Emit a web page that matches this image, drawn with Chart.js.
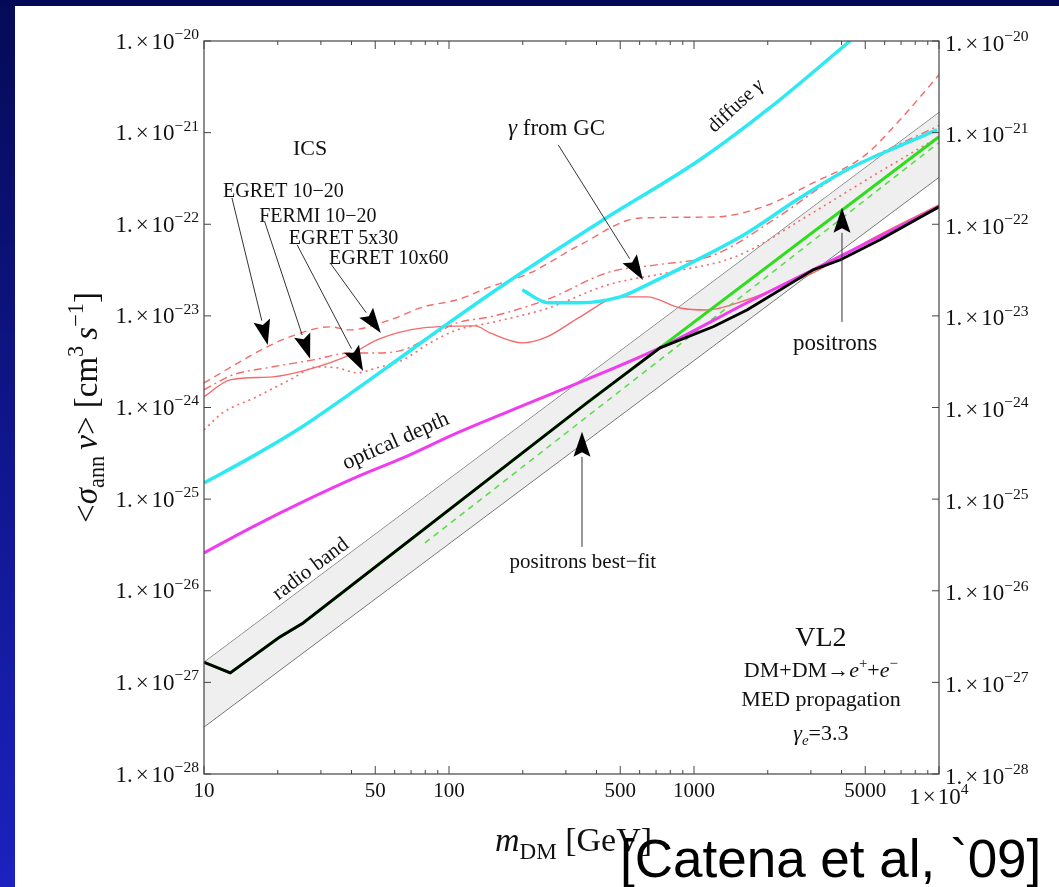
<!DOCTYPE html>
<html>
<head>
<meta charset="utf-8">
<script src="https://cdn.jsdelivr.net/npm/chart.js@4.4.1/dist/chart.umd.min.js"></script>
<style>
  html, body { margin: 0; padding: 0; background: #fff; }
  #slide { position: relative; width: 1059px; height: 887px; background: #fff; overflow: hidden; }
  #edgeLeft { position: absolute; left: 0; top: 0; width: 15px; height: 887px; background: linear-gradient(#050a58, #1b22bf); }
  #edgeTop { position: absolute; left: 0; top: 0; width: 1059px; height: 6px; background: #050a58; }
  canvas { position: absolute; left: 0; top: 0; }
</style>
</head>
<body>
<div id="slide">
  <div id="edgeLeft"></div>
  <div id="edgeTop"></div>
  <canvas id="limits" width="1059" height="887"></canvas>
</div>
<script>
// --- axes ---
const massMajor = [10, 50, 100, 500, 1000, 5000, 10000];
const massMinor = [20, 30, 40, 60, 70, 80, 90, 200, 300, 400, 600, 700, 800, 900,
                   2000, 3000, 4000, 6000, 7000, 8000, 9000];
const massLabels = ['10', '50', '100', '500', '1000', '5000', '1×10^4'];
const sigmaExps = [-28, -27, -26, -25, -24, -23, -22, -21, -20];

// --- radio band (edges) ---
const bandM = [10, 10000];
const bandUpper = [1.66e-27, 1.66e-21];
const bandLower = [3.25e-28, 3.25e-22];

// --- positrons ---
const blackM = [10, 12.8, 20.4, 25.4, 365, 726, 1197, 1645, 3060, 3945, 5745, 10000];
const blackS = [1.66e-27, 1.27e-27, 3.13e-27, 4.45e-27, 1.12e-24, 4.47e-24, 7.6e-24, 1.16e-23, 3.18e-23, 4.07e-23, 6.76e-23, 1.55e-22];
const greenM = [10, 12.8, 20.4, 25.4, 365, 726, 10000];
const greenS = [1.66e-27, 1.27e-27, 3.13e-27, 4.45e-27, 1.12e-24, 4.47e-24, 9.0e-22];
const bestFitM = [79.8, 10000];
const bestFitS = [3.33e-26, 7.8e-22];

// --- optical depth ---
const opticalM = [10, 15.8, 26.3, 42.1, 64.9, 108, 228, 726, 1645, 3060, 5380, 10000];
const opticalS = [2.59e-26, 4.98e-26, 9.8e-26, 1.75e-25, 2.82e-25, 5.29e-25, 1.21e-24, 4.47e-24, 1.39e-23, 3.18e-23, 6.76e-23, 1.55e-22];

// --- gamma rays ---
const diffuseM = [10, 15.4, 24.7, 39.4, 63.1, 101, 162, 413, 1057, 2042, 4335];
const diffuseS = [1.5e-25, 2.82e-25, 5.98e-25, 1.41e-24, 3.47e-24, 8.59e-24, 2.07e-23, 1.06e-22, 5.05e-22, 1.87e-21, 1e-20];
const gcM = [199, 254, 343, 499, 643, 1028, 1645, 2630, 4207, 6745, 9817];
const gcS = [1.92e-23, 1.39e-23, 1.39e-23, 1.61e-23, 2.18e-23, 4.08e-23, 8.05e-23, 1.85e-22, 3.93e-22, 7.0e-22, 1.07e-21];

// --- ICS ---
const egret1020M = [10, 18.1, 22.4, 32.7, 39.4, 57.4, 78.3, 108, 147, 214, 343, 603, 1197, 1914, 3060, 4898, 6934, 10000];
const egret1020S = [1.86e-24, 4.59e-24, 5.9e-24, 7.59e-24, 7.03e-24, 9.03e-24, 1.25e-23, 1.5e-23, 2.07e-23, 2.94e-23, 5.96e-23, 1.17e-22, 1.2e-22, 1.55e-22, 2.83e-22, 5.45e-22, 1.38e-21, 4.28e-21];
const fermiM = [10, 13.1, 18.1, 27.9, 39.4, 50.8, 64.9, 83.6, 108, 147, 250, 450, 700, 1200, 2200, 4000, 10000];
const fermiS = [1.56e-24, 2.27e-24, 2.71e-24, 3.31e-24, 3.94e-24, 3.94e-24, 4.25e-24, 5.9e-24, 8.4e-24, 9.75e-24, 1.5e-23, 3.0e-23, 3.6e-23, 4.6e-23, 1.2e-22, 3.6e-22, 1.2e-21];
const egret530M = [10, 11.9, 16.4, 22.4, 28.9, 34.9, 42.1, 50.8, 64.9, 83.6, 108, 147, 250, 450, 800, 1500, 3000, 5500, 10000];
const egret530S = [5.69e-25, 8.73e-25, 1.31e-24, 2.0e-24, 2.77e-24, 2.71e-24, 2.39e-24, 2.71e-24, 3.31e-24, 5.07e-24, 7.03e-24, 8.4e-24, 1.2e-23, 2.2e-23, 3.0e-23, 4.5e-23, 1.3e-22, 3.5e-22, 9.0e-22];
const egret1060M = [10, 12.8, 19.1, 26.3, 39.4, 50.8, 78.3, 128, 147, 200, 251, 343, 499, 643, 877, 1130, 1645, 2243, 3060, 5224, 10000];
const egret1060S = [1.31e-24, 2.0e-24, 2.16e-24, 2.57e-24, 3.75e-24, 5.47e-24, 7.39e-24, 7.78e-24, 6.52e-24, 5.07e-24, 5.9e-24, 9.75e-24, 1.61e-23, 1.61e-23, 1.22e-23, 1.16e-23, 1.5e-23, 2.07e-23, 2.94e-23, 6.76e-23, 1.63e-22];

const pts = (ms, ss) => ms.map((m, i) => ({ x: m, y: ss[i] }));

const RED = '#f46a6a';
const serif = '"Liberation Serif", "Times New Roman", serif';

function line(data, color, width, extra) {
  return Object.assign({ data, borderColor: color, borderWidth: width, pointRadius: 0,
    fill: false, tension: 0.35, cubicInterpolationMode: 'monotone' }, extra || {});
}
// straight segments between the points
const straight = { tension: 0, cubicInterpolationMode: 'default' };

// Labels placed in data coordinates: [mass, sigma]
const notes = [
  { at: [27.1, 6.8e-22], size: 22, align: 'center', runs: [{ t: 'ICS' }] },
  { at: [11.96, 2.32e-22], size: 20, align: 'left', runs: [{ t: 'EGRET 10\u221220' }] },
  { at: [16.8, 1.24e-22], size: 20, align: 'left', runs: [{ t: 'FERMI 10\u221220' }] },
  { at: [22.2, 7.27e-23], size: 20, align: 'left', runs: [{ t: 'EGRET 5x30' }] },
  { at: [32.4, 4.4e-23], size: 20, align: 'left', runs: [{ t: 'EGRET 10x60' }] },
  { at: [174, 1.13e-21], size: 23, align: 'left', runs: [{ t: '\u03b3', it: true }, { t: ' from GC' }] },
  { at: [1469, 1.99e-21], size: 20, align: 'center', angle: -43, runs: [{ t: 'diffuse ' }, { t: '\u03b3', it: true }] },
  { at: [60.3, 4.43e-25], size: 22, align: 'center', angle: -24, runs: [{ t: 'optical depth' }] },
  { at: [27.1, 1.77e-26], size: 21, align: 'center', angle: -37, runs: [{ t: 'radio band' }] },
  { at: [3767, 5.12e-24], size: 23, align: 'center', runs: [{ t: 'positrons' }] },
  { at: [352, 2.13e-26], size: 21, align: 'center', runs: [{ t: 'positrons best\u2212fit' }] },
  { at: [3296, 3.13e-27], size: 28, align: 'center', runs: [{ t: 'VL2' }] },
  { at: [3296, 1.38e-27], size: 22, align: 'center', runs: [{ t: 'DM+DM\u2192' }, { t: 'e', it: true }, { t: '+', sup: true },
      { t: '+' }, { t: 'e', it: true }, { t: '\u2212', sup: true }] },
  { at: [3296, 6.59e-28], size: 22, align: 'center', runs: [{ t: 'MED propagation' }] },
  { at: [3296, 2.84e-28], size: 22, align: 'center', runs: [{ t: '\u03b3', it: true }, { t: 'e', it: true, sub: true }, { t: '=3.3' }] }
];

// Arrows: from [mass, sigma] to [mass, sigma] (tip)
const arrows = [
  [[13.0, 1.94e-22], [18.2, 4.82e-24]],
  [[17.7, 1.06e-22], [27.1, 3.40e-24]],
  [[24.0, 5.96e-23], [44.6, 2.51e-24]],
  [[32.7, 3.79e-23], [52.7, 6.52e-24]],
  [[279, 7.36e-22], [619, 2.47e-23]],
  [[4018, 8.59e-24], [4018, 1.51e-22]],
  [[349, 3.01e-26], [349, 5.42e-25]]
];

function drawRuns(ctx, runs, x, y, size, align, angle) {
  const parts = runs.map(r => {
    const s = (r.sub || r.sup) ? size * 0.68 : size;
    const font = (r.it ? 'italic ' : '') + s.toFixed(1) + 'px ' + serif;
    ctx.font = font;
    const w = r.gap != null ? r.gap : ctx.measureText(r.t).width;
    const dy = r.sup ? -size * 0.42 : (r.sub ? size * 0.22 : 0);
    return { r, font, w, dy };
  });
  const total = parts.reduce((a, p) => a + p.w, 0);
  ctx.save();
  ctx.translate(x, y);
  if (angle) ctx.rotate(angle * Math.PI / 180);
  let cx = align === 'center' ? -total / 2 : (align === 'right' ? -total : 0);
  ctx.textAlign = 'left';
  ctx.textBaseline = 'alphabetic';
  ctx.fillStyle = '#111';
  parts.forEach(p => {
    if (p.r.t) { ctx.font = p.font; ctx.fillText(p.r.t, cx, p.dy + size * 0.33); }
    cx += p.w;
  });
  ctx.restore();
}

function powRuns(mant, exp) {
  return [{ t: mant }, { gap: 3 }, { t: '\u00d7' }, { gap: 3 }, { t: '10' }, { t: String(exp).replace('-', '\u2212'), sup: true }];
}

const frame = {
  id: 'frame',
  afterDatasetsDraw(chart) {
    const { ctx, chartArea: a, scales: { x, y } } = chart;
    ctx.save();
    ctx.strokeStyle = '#444';
    ctx.lineWidth = 1.2;
    ctx.strokeRect(a.left, a.top, a.right - a.left, a.bottom - a.top);

    // ticks on all four sides, pointing inward
    ctx.lineWidth = 1;
    ctx.beginPath();
    massMajor.concat(massMinor).forEach(m => {
      const px = x.getPixelForValue(m);
      const len = massMajor.includes(m) ? 8 : 4;
      ctx.moveTo(px, a.bottom); ctx.lineTo(px, a.bottom - len);
      ctx.moveTo(px, a.top); ctx.lineTo(px, a.top + len);
    });
    sigmaExps.forEach(e => {
      const py = y.getPixelForValue(Math.pow(10, e));
      ctx.moveTo(a.left, py); ctx.lineTo(a.left + 7, py);
      ctx.moveTo(a.right, py); ctx.lineTo(a.right - 7, py);
    });
    ctx.stroke();

    // tick labels
    sigmaExps.forEach(e => {
      const py = y.getPixelForValue(Math.pow(10, e));
      drawRuns(ctx, powRuns('1.', e), a.left - 5, py, 23, 'right');
      drawRuns(ctx, powRuns('1.', e), a.right + 6, py + 2, 23, 'left');
    });
    massMajor.forEach((m, i) => {
      const px = x.getPixelForValue(m);
      const lab = massLabels[i];
      if (lab.includes('^')) {
        const [b, p] = lab.split('^');
        drawRuns(ctx, [{ t: b.replace('×10', '') }, { gap: 2 }, { t: '\u00d7' }, { gap: 2 }, { t: '10' }, { t: p, sup: true }],
          px, a.bottom + 22, 23, 'center');
      } else {
        drawRuns(ctx, [{ t: lab }], px, a.bottom + 16, 21, 'center');
      }
    });

    // axis titles
    drawRuns(ctx, [{ t: 'm', it: true }, { t: 'DM', sub: true }, { t: ' [GeV]' }],
      (a.left + a.right) / 2 + 2, a.bottom + 66, 34, 'center');
    drawRuns(ctx, [{ t: '<' }, { t: '\u03c3', it: true }, { t: 'ann', sub: true }, { gap: 6 }, { t: 'v', it: true }, { t: '>' },
      { t: ' [cm' }, { t: '3', sup: true }, { gap: 6 }, { t: 's', it: true }, { t: '\u22121', sup: true }, { t: ']' }],
      a.left - 118, (a.top + a.bottom) / 2, 33, 'center', -90);

    // annotations
    notes.forEach(n => {
      drawRuns(ctx, n.runs, x.getPixelForValue(n.at[0]), y.getPixelForValue(n.at[1]), n.size, n.align, n.angle || 0);
    });

    // arrows
    arrows.forEach(([from, to]) => {
      const x0 = x.getPixelForValue(from[0]), y0 = y.getPixelForValue(from[1]);
      const x1 = x.getPixelForValue(to[0]), y1 = y.getPixelForValue(to[1]);
      const ang = Math.atan2(y1 - y0, x1 - x0);
      const L = 25, W = 8.5;
      const bx = x1 - L * Math.cos(ang), by = y1 - L * Math.sin(ang);
      ctx.strokeStyle = '#333';
      ctx.lineWidth = 1;
      ctx.beginPath(); ctx.moveTo(x0, y0); ctx.lineTo(bx, by); ctx.stroke();
      ctx.fillStyle = '#000';
      ctx.beginPath();
      ctx.moveTo(x1, y1);
      ctx.lineTo(bx + W * Math.sin(ang), by - W * Math.cos(ang));
      ctx.lineTo(bx + 0.18 * L * Math.cos(ang), by + 0.18 * L * Math.sin(ang));
      ctx.lineTo(bx - W * Math.sin(ang), by + W * Math.cos(ang));
      ctx.closePath();
      ctx.fill();
    });

    // citation
    ctx.font = '53px "Liberation Sans", Arial, sans-serif';
    ctx.fillStyle = '#000';
    ctx.textAlign = 'left';
    ctx.textBaseline = 'alphabetic';
    ctx.fillText('[Catena et al, `09]', 620, 877);
    ctx.restore();
  }
};

new Chart(document.getElementById('limits'), {
  type: 'line',
  data: {
    datasets: [
      line(pts(bandM, bandUpper), '#777', 1, Object.assign({ order: 20 }, straight)),
      line(pts(bandM, bandLower), '#777', 1, Object.assign({ order: 19, fill: '-1', backgroundColor: 'rgba(225,225,225,0.55)' }, straight)),
      line(pts(egret1020M, egret1020S), RED, 1.4, { borderDash: [7, 5], order: 12 }),
      line(pts(fermiM, fermiS), RED, 1.4, { borderDash: [8, 4, 2, 4], order: 12 }),
      line(pts(egret530M, egret530S), RED, 1.6, { borderDash: [2, 4], order: 12 }),
      line(pts(egret1060M, egret1060S), RED, 1.4, { order: 11 }),
      line(pts(bestFitM, bestFitS), '#55dd44', 1.5, Object.assign({ borderDash: [6, 5], order: 9 }, straight)),
      line(pts(diffuseM, diffuseS), '#2ee8f2', 3.5, { order: 8, clip: 0 }),
      line(pts(gcM, gcS), '#2ee8f2', 3.5, { order: 8 }),
      line(pts(opticalM, opticalS), '#f03cf0', 3, { order: 6 }),
      line(pts(greenM, greenS), '#2fdc1e', 3, Object.assign({ order: 5 }, straight)),
      line(pts(blackM, blackS), '#000', 2.8, Object.assign({ order: 4, borderJoinStyle: 'round' }, straight))
    ]
  },
  options: {
    responsive: false,
    animation: false,
    events: [],
    layout: { padding: { left: 204, right: 120, top: 41, bottom: 113 } },
    scales: {
      x: { type: 'logarithmic', min: 10, max: 10000, display: false },
      y: { type: 'logarithmic', min: 1e-28, max: 1e-20, display: false }
    },
    plugins: { legend: { display: false }, tooltip: { enabled: false } }
  },
  plugins: [frame]
});
</script>
</body>
</html>
